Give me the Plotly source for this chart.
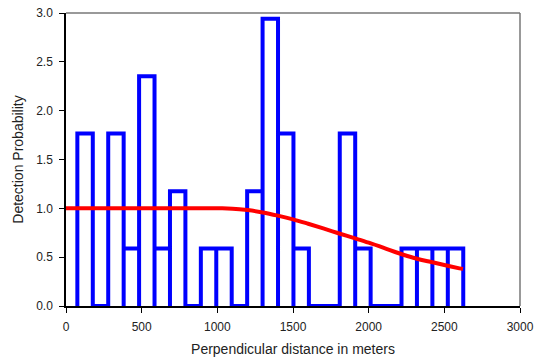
import plotly.graph_objects as go

# Histogram of perpendicular distances (scaled to detection probability)
bin_start = 75
bin_width = 102
bin_heights = [1.765, 0.0, 1.765, 0.588, 2.353, 0.588, 1.176, 0.0, 0.588, 0.588,
               0.0, 1.176, 2.941, 1.765, 0.588, 0.0, 0.0, 1.765, 0.588, 0.0,
               0.0, 0.588, 0.588, 0.588, 0.588]

# Fitted detection function
curve_x = [0, 1000, 1100, 1200, 1300, 1400, 1500, 1600, 1700, 1800, 1900,
           2000, 2100, 2200, 2300, 2400, 2500, 2600, 2623]
curve_y = [1.0, 1.0, 0.997, 0.982, 0.958, 0.925, 0.887, 0.842, 0.795, 0.745, 0.697,
           0.648, 0.595, 0.54, 0.492, 0.455, 0.42, 0.385, 0.378]

x_ticks = [0, 500, 1000, 1500, 2000, 2500, 3000]
y_ticks = [0.0, 0.5, 1.0, 1.5, 2.0, 2.5, 3.0]

# Outline of the histogram as one continuous step path
hx, hy = [], []
for i, h in enumerate(bin_heights):
    left = bin_start + i * bin_width
    right = left + bin_width
    hx += [left, left, right, right]
    hy += [0, h, h, 0]

fig = go.Figure()
fig.add_trace(go.Scatter(x=hx, y=hy, mode="lines",
                         line=dict(color="#0000FF", width=4),
                         hoverinfo="skip", showlegend=False))
fig.add_trace(go.Scatter(x=curve_x, y=curve_y, mode="lines",
                         line=dict(color="#FF0000", width=4, shape="spline"),
                         showlegend=False))

font = dict(family="Liberation Sans, Arial, sans-serif", size=12, color="#222222")

fig.update_layout(
    width=537, height=362, autosize=False,
    margin=dict(l=66, r=17, t=13, b=56, pad=0, autoexpand=False),
    paper_bgcolor="white", plot_bgcolor="white",
    font=font,
    xaxis=dict(range=[0, 3000], tickvals=x_ticks, ticks="outside", ticklen=5,
               tickcolor="black", showline=True, linecolor="black", linewidth=1.5,
               showgrid=False, zeroline=False, automargin=False,
               ticklabelstandoff=4,
               title=dict(text="Perpendicular distance in meters", standoff=11)),
    yaxis=dict(range=[0, 3], tickvals=y_ticks, tickformat=".1f", ticks="outside",
               ticklen=5, tickcolor="black", showline=True, linecolor="black",
               linewidth=1.5, showgrid=False, zeroline=False, automargin=False,
               ticklabelstandoff=4,
               title=dict(text="Detection Probability", standoff=9)),
    shapes=[
        dict(type="line", xref="paper", yref="paper", x0=0, x1=1, y0=1, y1=1,
             line=dict(color="#777777", width=1.5)),
        dict(type="line", xref="paper", yref="paper", x0=1, x1=1, y0=0, y1=1,
             line=dict(color="#777777", width=1.5)),
    ],
)

fig.write_html("out.html")
